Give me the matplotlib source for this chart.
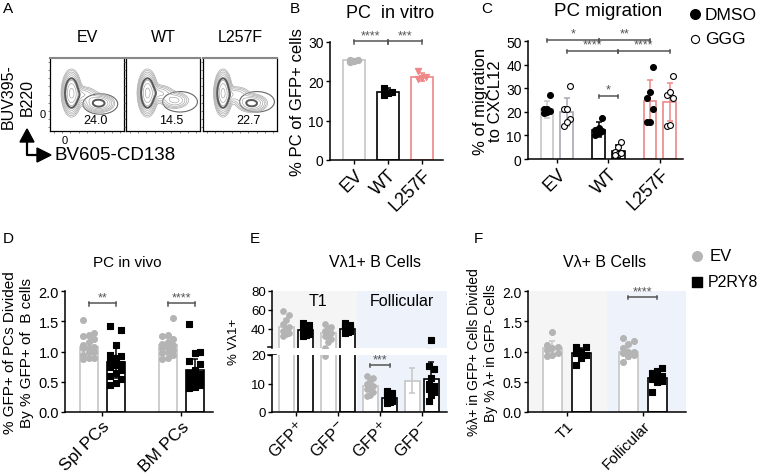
import numpy as np
import matplotlib.pyplot as plt
from matplotlib.patches import Ellipse, Polygon

plt.rcParams['font.family'] = ['Liberation Sans', 'DejaVu Sans']
plt.rcParams['axes.linewidth'] = 1.1

W, H = 760, 477

# ---------------- data ----------------
# A: flow populations (x, y, sx, sy, weight) in box units, gate % values
a_titles = ['EV', 'WT', 'L257F']
a_pct = ['24.0', '14.5', '22.7']
a_pops = [
    [(0.29, 0.52, 0.055, 0.13, 1.0), (0.45, 0.50, 0.10, 0.06, 0.18), (0.66, 0.38, 0.10, 0.06, 0.40)],
    [(0.29, 0.52, 0.055, 0.13, 1.0), (0.45, 0.52, 0.10, 0.06, 0.20), (0.66, 0.42, 0.10, 0.06, 0.22)],
    [(0.27, 0.52, 0.05, 0.13, 1.0), (0.45, 0.50, 0.10, 0.06, 0.18), (0.66, 0.38, 0.10, 0.06, 0.38)],
]
a_gates = [(0.68, 0.37, 0.47, 0.28), (0.73, 0.40, 0.47, 0.28), (0.73, 0.40, 0.47, 0.28)]

# B: PC in vitro
b_groups = ['EV', 'WT', 'L257F']
b_mean = [25.3, 17.2, 21.2]
b_sd = [0.2, 1.0, 1.0]
b_points = [[25.0, 25.2, 25.4, 25.3], [16.4, 17.3, 18.3, 17.1], [20.5, 22.6, 20.8, 21.2]]

# C: PC migration
c_groups = ['EV', 'WT', 'L257F']
c_dmso_mean = [21.0, 12.5, 24.5]
c_dmso_sd = [3.5, 3.0, 9.0]
c_ggg_mean = [20.0, 3.5, 24.0]
c_ggg_sd = [6.0, 2.5, 8.0]
c_dmso_points = [[27, 21, 20, 20.5, 21, 19.5], [17.5, 12, 12.5, 13, 10, 11],
                 [39, 28.5, 26, 21, 15.5, 15.5]]
c_ggg_points = [[31, 21, 21, 17, 14, 15.5], [7, 5, 3, 2, 1.5, 2.5],
                [35, 27, 26, 28.5, 14, 14.5]]

# D: PC in vivo
d_groups = ['Spl PCs', 'BM PCs']
d_ev_mean = [1.08, 1.10]
d_ev_sd = [0.14, 0.12]
d_p2_mean = [0.83, 0.70]
d_p2_sd = [0.27, 0.17]
d_ev_points = [[1.52, 1.30, 1.28, 1.25, 1.20, 1.15, 1.10, 1.08, 1.05, 1.05, 1.00, 1.00, 0.95, 0.90, 0.90, 0.88],
               [1.55, 1.28, 1.25, 1.20, 1.15, 1.12, 1.10, 1.08, 1.05, 1.02, 1.00, 0.98, 0.95, 0.90, 0.88]]
d_p2_points = [[1.42, 1.35, 1.10, 0.95, 0.92, 0.90, 0.85, 0.80, 0.78, 0.75, 0.70, 0.65, 0.60, 0.55, 0.48, 0.45],
               [1.45, 1.00, 0.98, 0.85, 0.80, 0.70, 0.65, 0.62, 0.60, 0.58, 0.55, 0.52, 0.50, 0.45, 0.42, 0.40]]

# E: Vl1+ B cells
e_groups = ['GFP$^{+}$', 'GFP$^{-}$', 'GFP$^{+}$', 'GFP$^{-}$']
e_ev_mean = [42, 36, 9, 11]
e_ev_sd = [9, 7, 3, 4.5]
e_p2_mean = [39, 40, 5, 11.5]
e_p2_sd = [4, 3, 1.5, 6]
e_ev_points = [[59, 55, 50, 45, 42, 40, 38, 36, 35, 33],
               [45, 42, 40, 38, 36, 35, 33, 30, 26, 19.5],
               [12.5, 12, 11, 10, 9, 8.5, 8, 7, 6, 5.5],
               []]
e_p2_points = [[46, 44, 42, 40, 38, 37, 36, 35, 34, 33],
               [46, 44, 43, 42, 41, 40, 39, 38, 37, 36],
               [7.5, 6.5, 6, 5.5, 5, 4.5, 4, 4, 3.5, 3],
               [28, 16, 15, 12, 10, 9, 9, 8, 7, 6, 4]]

# F: Vl+ B cells ratio
f_groups = ['T1', 'Follicular']
f_ev_mean = [1.05, 1.00]
f_ev_sd = [0.13, 0.12]
f_p2_mean = [0.98, 0.57]
f_p2_sd = [0.08, 0.08]
f_ev_points = [[1.33, 1.10, 1.08, 1.05, 1.02, 0.98, 0.95, 0.92],
               [1.22, 1.18, 1.12, 1.05, 1.00, 0.98, 0.95, 0.92, 0.82, 1.00]]
f_p2_points = [[1.08, 1.07, 1.00, 0.98, 0.95, 0.90, 0.78],
               [0.73, 0.68, 0.65, 0.60, 0.58, 0.55, 0.52, 0.50, 0.33]]

GRAY = '#b4b4b4'
GRAY_BAR = '#c6c6c6'
GGG_BAR = '#a8a8b4'
PINK = '#ee8888'
T1_BG = '#f5f5f5'
FOL_BG = '#eef2fa'


def rect(x0, y0, x1, y1):
    return [x0 / W, 1 - y1 / H, (x1 - x0) / W, (y1 - y0) / H]


def style(ax, ysize=10):
    for s in ['top', 'right']:
        ax.spines[s].set_visible(False)
    ax.tick_params(length=3, width=1, labelsize=ysize, pad=1.5)


def spread(vals, width):
    vals = np.asarray(vals, float)
    order = np.argsort(vals)
    off = np.zeros(len(vals))
    for i, k in enumerate(order):
        off[k] = ((i % 3) - 1) * width
    return off


def bar_group(ax, x, mean, sd, pts, edge, pcolor, marker, width, jit, ms=16, face='white'):
    ax.bar(x, mean, width, facecolor='white', edgecolor=edge, linewidth=1.2, zorder=2)
    ax.errorbar(x, mean, yerr=sd, color=edge, capsize=2.5, elinewidth=1.1, capthick=1.1, zorder=3)
    if len(pts):
        ax.scatter(x + spread(pts, jit), pts, s=ms, marker=marker, facecolor=face,
                   edgecolor=pcolor, linewidth=0.8, zorder=4)


def sig(ax, x1, x2, y, text, h, color='#555555', fs=9):
    ax.plot([x1, x2], [y, y], color=color, lw=1.1, clip_on=False)
    ax.plot([x1, x1], [y - h, y + h * 0.5], color=color, lw=1.1, clip_on=False)
    ax.plot([x2, x2], [y - h, y + h * 0.5], color=color, lw=1.1, clip_on=False)
    ax.text((x1 + x2) / 2, y, text, ha='center', va='bottom', fontsize=fs, color=color)


def cat_ticks(ax, pos, labels, fs):
    ax.set_xticks(pos)
    ax.set_xticklabels(labels, rotation=45, ha='right', rotation_mode='anchor', fontsize=fs)


fig = plt.figure(figsize=(W / 100, H / 100), dpi=100)
ov = fig.add_axes([0, 0, 1, 1])
ov.set_xlim(0, W)
ov.set_ylim(H, 0)
ov.axis('off')

# panel letters
for lab, (x, y) in zip('ABCDEF', [(3, 9), (290, 9), (481, 9), (3, 239), (250, 239), (474, 239)]):
    ov.text(x, y, lab, fontsize=11, va='center', ha='left')

# ---------------- A ----------------
gx = np.linspace(0, 1, 160)
GX, GY = np.meshgrid(gx, gx)
boxes = [(50, 59, 124, 132), (126, 59, 200, 132), (203, 59, 277, 132)]
for i, bx in enumerate(boxes):
    ax = fig.add_axes(rect(*bx))
    dens = np.zeros_like(GX)
    for (mx, my, sx, sy, w) in a_pops[i]:
        dens += w * np.exp(-((GX - mx) ** 2 / (2 * sx ** 2) + (GY - my) ** 2 / (2 * sy ** 2)))
    levels = np.geomspace(0.04, 0.9, 9)
    ax.contour(GX, GY, dens, levels=levels, colors='#a8a8a8', linewidths=0.5)
    ax.contour(GX, GY, dens, levels=[0.3], colors='#5a5a5a', linewidths=1.4)
    cx, cy, ew, eh = a_gates[i]
    ax.add_patch(Ellipse((cx, cy), ew, eh, fill=False, edgecolor='#666666', lw=0.8))
    ax.text(0.61, 0.15, a_pct[i], ha='center', va='center', fontsize=9)
    ax.set_xlim(0, 1)
    ax.set_ylim(0, 1)
    ax.set_xticks(np.linspace(0.05, 0.95, 9))
    ax.set_yticks(np.linspace(0.05, 0.95, 9))
    ax.tick_params(length=1.5, width=0.6, labelbottom=False, labelleft=False, colors='#777777')
    for s in ax.spines.values():
        s.set_linewidth(0.9)
    ax.spines['top'].set_color('#888888')
    ax.spines['top'].set_linewidth(1.5)
    ov.text((bx[0] + bx[2]) / 2, 37, a_titles[i], ha='center', va='center', fontsize=11.5)
    if i == 0:
        ov.text(43, 115, '0', ha='center', va='center', fontsize=8)
        ov.text(65, 141, '0', ha='center', va='center', fontsize=8)

ov.text(8, 97, 'BUV395-', rotation=90, ha='center', va='center', fontsize=11.5)
ov.text(27, 97, 'B220', rotation=90, ha='center', va='center', fontsize=11.5)
ov.text(55, 156, 'BV605-CD138', ha='left', va='center', fontsize=13.5)
ov.plot([27, 27, 38], [142, 156, 156], color='black', lw=1.6)
ov.add_patch(Polygon([[20, 143], [34, 143], [27, 130]], closed=True, color='black'))
ov.add_patch(Polygon([[37, 149], [37, 163], [51, 156]], closed=True, color='black'))

# ---------------- B ----------------
ax = fig.add_axes(rect(330, 43, 443, 161))
style(ax)
bx = np.arange(3)
b_edges = [GRAY_BAR, 'black', PINK]
b_pc = [GRAY, 'black', PINK]
b_mk = ['o', 's', 'v']
for i in range(3):
    bar_group(ax, bx[i], b_mean[i], b_sd[i], b_points[i], b_edges[i], b_pc[i], b_mk[i],
              0.65, 0.12, ms=20, face=b_pc[i])
ax.set_xlim(-0.7, 2.62)
ax.set_ylim(0, 30)
ax.set_yticks([0, 10, 20, 30])
cat_ticks(ax, bx, b_groups, 13)
ax.set_ylabel('% PC of GFP+ cells', fontsize=12, labelpad=2)
ov.text(390, 13, 'PC  in vitro', ha='center', va='center', fontsize=13)
sig(ax, 0, 1, 30.2, '****', 0.6)
sig(ax, 1, 2, 30.2, '***', 0.6)

# ---------------- C ----------------
ax = fig.add_axes(rect(528, 42, 683, 160))
style(ax)
cx = np.arange(3)
off = 0.19
c_edges = [GRAY_BAR, 'black', PINK]
c_ggg_edges = [GGG_BAR, 'black', PINK]
for i in range(3):
    bar_group(ax, cx[i] - off, c_dmso_mean[i], c_dmso_sd[i], c_dmso_points[i], c_edges[i],
              'black', 'o', 0.25, 0.06, ms=18, face='black')
    bar_group(ax, cx[i] + off, c_ggg_mean[i], c_ggg_sd[i], c_ggg_points[i], c_ggg_edges[i],
              'black', 'o', 0.25, 0.06, ms=18, face='white')
ax.set_xlim(-0.56, 2.45)
ax.set_ylim(0, 50)
ax.set_yticks([0, 10, 20, 30, 40, 50])
cat_ticks(ax, cx, c_groups, 13)
ax.set_ylabel('% of migration\nto CXCL12', fontsize=12, labelpad=2, linespacing=1.0)
ov.text(608, 12, 'PC migration', ha='center', va='center', fontsize=13.5)
sig(ax, 0 - off, 1 - off, 50.5, '*', 0.8)
sig(ax, 1 - off, 2 - off, 50.5, '**', 0.8)
sig(ax, 0 + off, 1 + off, 45.9, '****', 0.8)
sig(ax, 1 + off, 2 + off, 45.9, '****', 0.8)
sig(ax, 1 - off, 1 + off, 26.8, '*', 0.8)
ov.scatter([695], [15], s=48, color='black')
ov.text(705, 15, 'DMSO', va='center', fontsize=12.5)
ov.scatter([695], [40], s=34, facecolor='white', edgecolor='black', linewidth=0.8)
ov.text(705, 40, 'GGG', va='center', fontsize=12.5)

# ---------------- D ----------------
ax = fig.add_axes(rect(65, 292, 213, 413))
style(ax, 10.5)
dx = np.arange(2)
off = 0.17
for i in range(2):
    bar_group(ax, dx[i] - off, d_ev_mean[i], d_ev_sd[i], d_ev_points[i], GRAY_BAR, GRAY, 'o',
              0.23, 0.07, ms=18, face=GRAY)
    bar_group(ax, dx[i] + off, d_p2_mean[i], d_p2_sd[i], d_p2_points[i], 'black', 'black', 's',
              0.23, 0.07, ms=18, face='black')
ax.set_xlim(-0.47, 1.4)
ax.set_ylim(0, 2.0)
ax.set_yticks([0, 0.5, 1.0, 1.5, 2.0])
ax.set_yticklabels(['0.0', '0.5', '1.0', '1.5', '2.0'])
cat_ticks(ax, dx, d_groups, 12.5)
ax.set_ylabel('% GFP+ of PCs Divided\nBy % GFP+ of  B cells', fontsize=11, labelpad=3,
              linespacing=1.25)
ov.text(127, 263, 'PC in vivo', ha='center', va='center', fontsize=11)
sig(ax, 0 - off, 0 + off, 1.8, '**', 0.04)
sig(ax, 1 - off, 1 + off, 1.8, '****', 0.04)

# ---------------- E ----------------
ex = np.arange(4)
off = 0.23
split = 1.45
ax_up = fig.add_axes(rect(272, 292, 447, 349))
ax_lo = fig.add_axes(rect(272, 356, 447, 413))
for ax in (ax_up, ax_lo):
    style(ax, 9.5)
    ax.set_xlim(-0.57, 3.6)
    if ax is ax_up:
        ax.axvspan(-0.57, split, color=T1_BG, zorder=0, lw=0)
    ax.axvspan(split, 3.6, color=FOL_BG, zorder=0, lw=0)
    for i in range(4):
        bar_group(ax, ex[i] - off, e_ev_mean[i], e_ev_sd[i], e_ev_points[i], GRAY_BAR, GRAY, 'o',
                  0.36, 0.07, ms=16, face=GRAY)
        bar_group(ax, ex[i] + off, e_p2_mean[i], e_p2_sd[i], e_p2_points[i], 'black', 'black', 's',
                  0.36, 0.07, ms=16, face='black')
ax_up.set_ylim(20, 80)
ax_up.set_yticks([40, 60, 80])
ax_up.spines['bottom'].set_visible(False)
ax_up.set_xticks([])
ax_lo.set_ylim(0, 20)
ax_lo.set_yticks([0, 10, 20])
cat_ticks(ax_lo, ex, e_groups, 11.5)
ax_up.text(0.52, 69.5, 'T1', ha='center', va='center', fontsize=11.5)
ax_up.text(2.52, 69.5, 'Follicular', ha='center', va='center', fontsize=11.5)
ov.text(375, 263, 'V\u03bb1+ B Cells', ha='center', va='center', fontsize=11.5)
ov.text(234, 342, '% V\u03bb1+', rotation=90, ha='center', va='center', fontsize=9.5)
ov.plot([268, 276], [348, 348], color='black', lw=1.1)
ov.plot([268, 276], [356, 356], color='black', lw=1.1)
sig(ax_lo, 2 - off, 2 + off, 16.5, '***', 0.6)

# ---------------- F ----------------
ax = fig.add_axes(rect(528, 292, 686, 413))
style(ax, 10)
fx = np.arange(2)
off = 0.19
ax.axvspan(-0.51, 0.53, color=T1_BG, zorder=0, lw=0)
ax.axvspan(0.53, 1.57, color=FOL_BG, zorder=0, lw=0)
for i in range(2):
    bar_group(ax, fx[i] - off, f_ev_mean[i], f_ev_sd[i], f_ev_points[i], GRAY_BAR, GRAY, 'o',
              0.25, 0.07, ms=18, face=GRAY)
    bar_group(ax, fx[i] + off, f_p2_mean[i], f_p2_sd[i], f_p2_points[i], 'black', 'black', 's',
              0.25, 0.07, ms=18, face='black')
ax.set_xlim(-0.51, 1.57)
ax.set_ylim(0, 2.0)
ax.set_yticks([0, 0.5, 1.0, 1.5, 2.0])
ax.set_yticklabels(['0.0', '0.5', '1.0', '1.5', '2.0'])
cat_ticks(ax, fx, f_groups, 11)
ax.set_ylabel('%\u03bb+ in GFP+ Cells Divided\nBy % \u03bb+ in GFP- Cells', fontsize=10, labelpad=3,
              linespacing=1.3)
ov.text(605, 263, 'V\u03bb+ B Cells', ha='center', va='center', fontsize=11.5)
sig(ax, 1 - off, 1 + off, 1.9, '****', 0.04)
ov.scatter([697], [257], s=48, color=GRAY)
ov.text(710, 257, 'EV', va='center', fontsize=12)
ov.scatter([697], [283], s=44, marker='s', color='black')
ov.text(708, 283, 'P2RY8', va='center', fontsize=11.5)

fig.savefig('out.png', dpi=100)
